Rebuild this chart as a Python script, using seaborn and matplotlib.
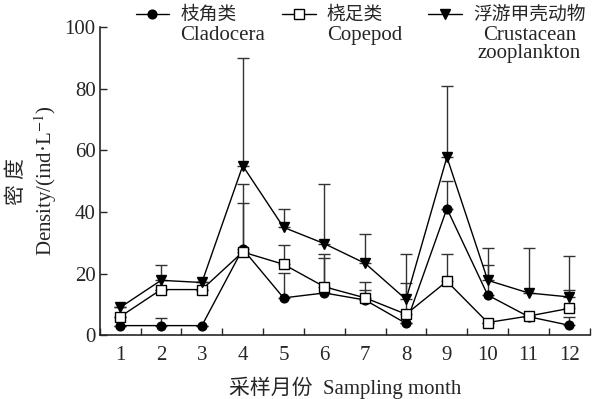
import numpy as np
import pandas as pd
import seaborn as sns
import matplotlib.pyplot as plt

# Monthly mean density (ind/L) and upper error bar tops
months = list(range(1, 13))
cladocera = [3.1, 3.1, 3.1, 28, 12.1, 13.7, 11.4, 3.8, 41.1, 13, 6, 3.2]
cladocera_top = [3.1, 5.7, 3.1, 49.2, 20.3, 26.5, 14.8, 3.8, 50, 22.9, 6, 5.9]
copepod = [6, 14.8, 14.8, 27, 23, 15.7, 12.1, 6.8, 17.5, 4.1, 6.2, 8.7]
copepod_top = [6, 14.8, 14.8, 42.9, 29.4, 24.9, 17.3, 16.8, 26.5, 4.1, 6.2, 14.8]
crustacean = [9, 17.8, 17.1, 55, 35, 29.7, 23.3, 11.6, 57.8, 17.8, 13.7, 12.4]
crustacean_top = [9, 22.9, 17.1, 90, 41.1, 49.2, 33, 26.5, 81, 28.3, 28.3, 25.7]

labels_cn = ['枝角类', '桡足类', '浮游甲壳动物']
labels_en = ['Cladocera', 'Copepod', 'Crustacean\nzooplankton']

df = pd.DataFrame({'month': months,
                   'Cladocera': cladocera, 'Copepod': copepod,
                   'Crustacean': crustacean})

sns.set_style('ticks')
plt.rcParams['font.family'] = ['Liberation Serif', 'Noto Sans CJK SC']
plt.rcParams['mathtext.fontset'] = 'stix'
plt.rcParams['font.size'] = 15

fig = plt.figure(figsize=(5.94, 3.99), dpi=100)
ax = fig.add_axes([0.168, 0.16, 0.825, 0.772])

series = [
    ('Cladocera', cladocera_top, 'o', 'black', 6.3),
    ('Copepod', copepod_top, 's', 'white', 6.5),
    ('Crustacean', crustacean_top, 'v', 'black', 7),
]
for col, top, mk, fc, ms in series:
    vals = df[col].to_numpy()
    err = np.array(top) - vals
    ax.errorbar(df['month'], vals, yerr=[np.zeros_like(err), err], fmt='none',
                ecolor='#333333', elinewidth=1, capsize=4.5, capthick=1, zorder=1)
    sns.lineplot(data=df, x='month', y=col, ax=ax, color='black', lw=1,
                 marker=mk, markersize=ms, markerfacecolor=fc,
                 markeredgecolor='black', markeredgewidth=1, label=col, zorder=3)

ax.set_xlim(0.5, 12.5)
ax.set_ylim(0, 100)
ax.set_xticks(months)
ax.set_xticks(np.arange(0.5, 13, 1), minor=True)
ax.set_yticks([0, 20, 40, 60, 80, 100])
ax.tick_params(axis='x', which='major', length=0, pad=8)
ax.tick_params(axis='x', which='minor', direction='in', length=5, width=1)
ax.tick_params(axis='y', direction='in', length=5, width=1, pad=3)
for s in ['left', 'bottom']:
    ax.spines[s].set_linewidth(1.2)
sns.despine(ax=ax)

ax.set_xlabel('采样月份  Sampling month', labelpad=8.5)
ax.set_ylabel('密 度\nDensity/(ind·L$^{-1}$)', linespacing=1.25, labelpad=4)

handles, _ = ax.get_legend_handles_labels()
ax.get_legend().remove()
leg = fig.legend(handles, labels_cn, loc='upper left', ncol=3,
                 bbox_to_anchor=(0.225, 0.988), frameon=False, borderpad=0.1,
                 borderaxespad=0, handlelength=1.8, handletextpad=0.6,
                 columnspacing=2.4, prop={'size': 13.5})
fig.canvas.draw()
for i, t in enumerate(leg.get_texts()):
    if i < 2:
        ax.annotate(labels_en[i], xy=(0, 0), xycoords=t, xytext=(0, -1.5),
                    textcoords='offset points', ha='left', va='top')
    else:
        ax.annotate(labels_en[i], xy=(0.5, 0), xycoords=t, xytext=(0, -1.5),
                    textcoords='offset points', ha='center', va='top',
                    linespacing=0.9, multialignment='center')

fig.savefig('out.png', dpi=100)
